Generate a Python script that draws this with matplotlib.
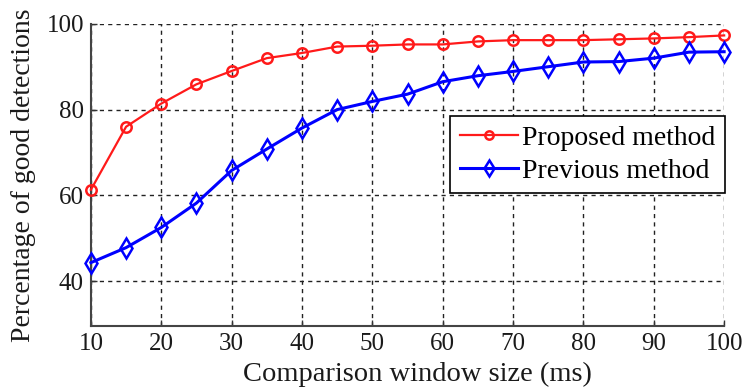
import matplotlib
matplotlib.use("Agg")
import matplotlib.pyplot as plt

window_ms = [10, 15, 20, 25, 30, 35, 40, 45, 50, 55, 60, 65, 70, 75, 80, 85, 90, 95, 100]
proposed = [61.3, 76.0, 81.4, 85.9, 89.0, 92.0, 93.2, 94.7, 94.9, 95.2, 95.2, 95.9, 96.2, 96.2, 96.2, 96.4, 96.6, 96.9, 97.3]
previous = [44.3, 47.8, 52.5, 58.2, 65.8, 70.8, 75.7, 80.0, 81.9, 83.6, 86.5, 87.9, 88.9, 90.0, 91.1, 91.2, 92.0, 93.4, 93.5]
xticks = [10, 20, 30, 40, 50, 60, 70, 80, 90, 100]
yticks = [40, 60, 80, 100]

plt.rcParams['font.family'] = ['Liberation Serif', 'DejaVu Serif']

fig = plt.figure(figsize=(7.45, 3.91), dpi=100)
ax = fig.add_axes([0.122, 0.166, 0.850, 0.773])

ax.plot(window_ms, proposed, color='#ff1a1a', lw=1.6, marker='o', ms=7.5,
        mfc='none', mec='#ff1a1a', mew=1.8, label='Proposed method', clip_on=False, zorder=4)
ax.plot(window_ms, previous, color='#0000ff', lw=2.2, marker='d', ms=10,
        mfc='none', mec='#0000ff', mew=1.8, label='Previous method', clip_on=False, zorder=4)

ax.set_xlim(10, 100)
ax.set_ylim(29.5, 100)
ax.set_xticks(xticks)
ax.set_yticks(yticks)
ax.tick_params(labelsize=18, direction='in', length=4, width=1, pad=5,
               colors='#333333', labelcolor='#1a1a1a')
ax.grid(True, color='#222222', linestyle=(0, (3, 3)), linewidth=1.0)
for s in ['top', 'right']:
    ax.spines[s].set_visible(False)
for s in ['left', 'bottom']:
    ax.spines[s].set_color('#444444')
    ax.spines[s].set_linewidth(1.5)

ax.set_xlabel('Comparison window size (ms)', fontsize=20.5, color='#1a1a1a')
ax.xaxis.set_label_coords(0.516, -0.118)
ax.set_ylabel('Percentage of good detections', fontsize=20, color='#1a1a1a')
ax.yaxis.set_label_coords(-0.086, 0.5)

leg = ax.legend(loc='upper right', bbox_to_anchor=(1.0016, 0.695), fontsize=20, frameon=True,
                fancybox=False, edgecolor='black', handlelength=2.1, borderpad=0.35,
                labelspacing=0.25, handletextpad=0.15, borderaxespad=0.0, markerscale=0.8)
leg.get_frame().set_linewidth(1.2)
leg.get_frame().set_alpha(1)

fig.savefig('out.png', dpi=100)
